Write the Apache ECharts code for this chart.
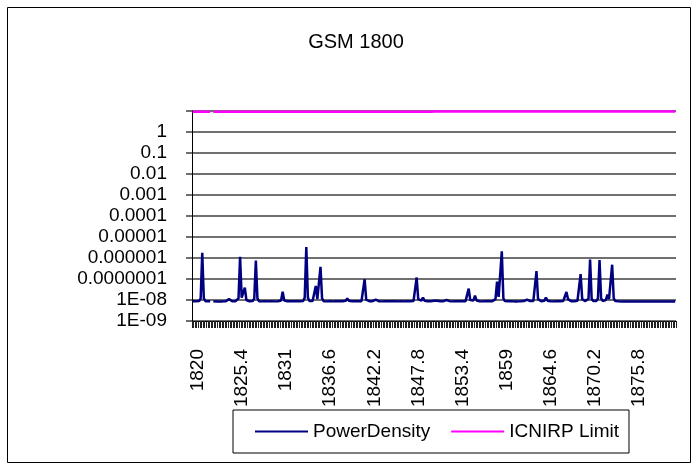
<!DOCTYPE html>
<html>
<head>
<meta charset="utf-8">
<script src="https://cdn.jsdelivr.net/npm/echarts@6/dist/echarts.min.js"></script>
<style>
html,body{margin:0;padding:0;background:#fff;}
#chart{width:698px;height:466px;}
</style>
</head>
<body>
<div id="chart"></div>
<script>
// Frequency (MHz) categories; one blank row in the source sheet at index 12
const frequencies = [
1820,1820.2,1820.4,1820.6,1820.8,1821,1821.2,1821.4,1821.6,1821.8,
1822,1822.2,'',1822.4,1822.6,1822.8,1823,1823.2,1823.4,1823.6,
1823.8,1824,1824.2,1824.4,1824.6,1824.8,1825,1825.2,1825.4,1825.6,
1825.8,1826,1826.2,1826.4,1826.6,1826.8,1827,1827.2,1827.4,1827.6,
1827.8,1828,1828.2,1828.4,1828.6,1828.8,1829,1829.2,1829.4,1829.6,
1829.8,1830,1830.2,1830.4,1830.6,1830.8,1831,1831.2,1831.4,1831.6,
1831.8,1832,1832.2,1832.4,1832.6,1832.8,1833,1833.2,1833.4,1833.6,
1833.8,1834,1834.2,1834.4,1834.6,1834.8,1835,1835.2,1835.4,1835.6,
1835.8,1836,1836.2,1836.4,1836.6,1836.8,1837,1837.2,1837.4,1837.6,
1837.8,1838,1838.2,1838.4,1838.6,1838.8,1839,1839.2,1839.4,1839.6,
1839.8,1840,1840.2,1840.4,1840.6,1840.8,1841,1841.2,1841.4,1841.6,
1841.8,1842,1842.2,1842.4,1842.6,1842.8,1843,1843.2,1843.4,1843.6,
1843.8,1844,1844.2,1844.4,1844.6,1844.8,1845,1845.2,1845.4,1845.6,
1845.8,1846,1846.2,1846.4,1846.6,1846.8,1847,1847.2,1847.4,1847.6,
1847.8,1848,1848.2,1848.4,1848.6,1848.8,1849,1849.2,1849.4,1849.6,
1849.8,1850,1850.2,1850.4,1850.6,1850.8,1851,1851.2,1851.4,1851.6,
1851.8,1852,1852.2,1852.4,1852.6,1852.8,1853,1853.2,1853.4,1853.6,
1853.8,1854,1854.2,1854.4,1854.6,1854.8,1855,1855.2,1855.4,1855.6,
1855.8,1856,1856.2,1856.4,1856.6,1856.8,1857,1857.2,1857.4,1857.6,
1857.8,1858,1858.2,1858.4,1858.6,1858.8,1859,1859.2,1859.4,1859.6,
1859.8,1860,1860.2,1860.4,1860.6,1860.8,1861,1861.2,1861.4,1861.6,
1861.8,1862,1862.2,1862.4,1862.6,1862.8,1863,1863.2,1863.4,1863.6,
1863.8,1864,1864.2,1864.4,1864.6,1864.8,1865,1865.2,1865.4,1865.6,
1865.8,1866,1866.2,1866.4,1866.6,1866.8,1867,1867.2,1867.4,1867.6,
1867.8,1868,1868.2,1868.4,1868.6,1868.8,1869,1869.2,1869.4,1869.6,
1869.8,1870,1870.2,1870.4,1870.6,1870.8,1871,1871.2,1871.4,1871.6,
1871.8,1872,1872.2,1872.4,1872.6,1872.8,1873,1873.2,1873.4,1873.6,
1873.8,1874,1874.2,1874.4,1874.6,1874.8,1875,1875.2,1875.4,1875.6,
1875.8,1876,1876.2,1876.4,1876.6,1876.8,1877,1877.2,1877.4,1877.6,
1877.8,1878,1878.2,1878.4,1878.6,1878.8,1879,1879.2,1879.4,1879.6,
1879.8,1880,1880.2,1880.4,1880.6,1880.8,1881
];

// Measured power density (W/m2)
const powerDensity = [
8.8e-9,8.7e-9,8.7e-9,8.6e-9,8.9e-9,1.2e-8,1.75e-6,1.2e-8,8.8e-9,8.7e-9,
8.7e-9,8.8e-9,null,8.6e-9,8.6e-9,8.5e-9,8.6e-9,8.6e-9,8.7e-9,8.6e-9,
8.7e-9,8.8e-9,9.2e-9,1.1e-8,9.0e-9,8.7e-9,8.8e-9,8.7e-9,9.0e-9,1.2e-8,
1.15e-6,1.3e-8,1.1e-8,3.9e-8,1.0e-8,8.8e-9,8.7e-9,8.7e-9,8.9e-9,1.2e-8,
7.6e-7,1.2e-8,8.8e-9,8.7e-9,8.6e-9,8.7e-9,8.7e-9,8.8e-9,8.6e-9,8.7e-9,
8.8e-9,8.7e-9,8.6e-9,8.7e-9,8.8e-9,8.9e-9,9.5e-9,2.5e-8,9.5e-9,8.8e-9,
8.7e-9,8.6e-9,8.7e-9,8.8e-9,8.7e-9,8.6e-9,8.7e-9,8.8e-9,8.7e-9,8.8e-9,
8.9e-9,1.3e-8,3.3e-6,1.3e-8,8.9e-9,8.8e-9,8.9e-9,1.1e-8,4.7e-8,1.1e-8,
1.2e-8,3.8e-7,1.2e-8,8.8e-9,8.7e-9,8.6e-9,8.7e-9,8.8e-9,8.7e-9,8.6e-9,
8.7e-9,8.8e-9,8.7e-9,8.7e-9,8.6e-9,8.7e-9,8.8e-9,9.2e-9,1.2e-8,9.2e-9,
8.8e-9,8.7e-9,8.6e-9,8.7e-9,8.7e-9,8.8e-9,8.7e-9,8.8e-9,1.05e-8,9.7e-8,
1.05e-8,8.8e-9,8.7e-9,8.7e-9,8.8e-9,9.2e-9,1.05e-8,9.2e-9,8.8e-9,8.7e-9,
8.6e-9,8.7e-9,8.7e-9,8.6e-9,8.7e-9,8.8e-9,8.7e-9,8.6e-9,8.7e-9,8.7e-9,
8.6e-9,8.7e-9,8.8e-9,8.7e-9,8.6e-9,8.7e-9,8.7e-9,8.8e-9,8.7e-9,8.8e-9,
8.9e-9,1.1e-8,1.18e-7,1.1e-8,8.9e-9,9.3e-9,1.3e-8,9.3e-9,8.8e-9,8.7e-9,
8.7e-9,8.8e-9,8.9e-9,9.3e-9,1.1e-8,9.3e-9,8.8e-9,8.7e-9,8.7e-9,8.8e-9,
9.3e-9,1.0e-8,9.2e-9,8.8e-9,8.7e-9,8.6e-9,8.7e-9,8.7e-9,8.6e-9,8.7e-9,
8.6e-9,8.7e-9,8.8e-9,8.8e-9,1.0e-8,3.5e-8,1.0e-8,9.0e-9,9.5e-9,1.6e-8,
9.5e-9,8.8e-9,8.7e-9,8.7e-9,8.6e-9,8.7e-9,8.7e-9,8.8e-9,8.7e-9,8.7e-9,
8.8e-9,9.0e-9,1.1e-8,7.5e-8,1.4e-8,1.5e-8,2.1e-6,1.2e-8,8.9e-9,8.7e-9,
8.7e-9,8.6e-9,8.7e-9,8.7e-9,8.6e-9,8.7e-9,8.6e-9,8.7e-9,8.7e-9,8.8e-9,
8.9e-9,9.3e-9,1.05e-8,9.3e-9,8.9e-9,8.8e-9,8.9e-9,1.1e-8,2.4e-7,1.1e-8,
8.9e-9,8.8e-9,8.8e-9,9.3e-9,1.3e-8,9.3e-9,8.8e-9,8.7e-9,8.7e-9,8.6e-9,
8.7e-9,8.7e-9,8.6e-9,8.7e-9,8.8e-9,9.0e-9,1.1e-8,2.4e-8,1.1e-8,8.9e-9,
8.8e-9,8.7e-9,8.8e-9,8.9e-9,9.2e-9,1.1e-8,1.7e-7,1.1e-8,9.0e-9,8.9e-9,
9.0e-9,1.15e-8,8.5e-7,1.15e-8,9.0e-9,8.9e-9,9.0e-9,1.2e-8,8.0e-7,1.2e-8,
9.0e-9,9.0e-9,1.0e-8,1.8e-8,1.1e-8,1.2e-8,4.8e-7,1.2e-8,8.9e-9,8.7e-9,
8.6e-9,8.6e-9,8.5e-9,8.5e-9,8.6e-9,8.5e-9,8.5e-9,8.6e-9,8.5e-9,8.5e-9,
8.6e-9,8.5e-9,8.5e-9,8.6e-9,8.5e-9,8.5e-9,8.6e-9,8.5e-9,8.5e-9,8.6e-9,
8.5e-9,8.5e-9,8.6e-9,8.5e-9,8.5e-9,8.6e-9,8.5e-9,8.5e-9,8.6e-9,8.5e-9,
8.5e-9,8.6e-9,8.5e-9,8.5e-9,8.6e-9,8.5e-9,8.5e-9
];

// ICNIRP reference level (W/m2)
const icnirpLimit = [
9.1,9.1,9.1,9.1,9.1,9.1,9.1,9.1,9.1,9.1,
9.1,9.1,null,9.1,9.1,9.1,9.1,9.1,9.1,9.1,
9.1,9.1,9.1,9.1,9.1,9.1,9.1,9.1,9.1,9.1,
9.1,9.1,9.1,9.1,9.1,9.1,9.1,9.1,9.1,9.1,
9.1,9.1,9.1,9.1,9.1,9.1,9.1,9.1,9.1,9.1,
9.1,9.1,9.1,9.1,9.1,9.1,9.1,9.1,9.1,9.1,
9.1,9.1,9.1,9.1,9.1,9.1,9.1,9.1,9.1,9.1,
9.1,9.1,9.1,9.1,9.1,9.1,9.1,9.1,9.1,9.1,
9.1,9.1,9.1,9.1,9.1,9.1,9.1,9.1,9.1,9.1,
9.1,9.1,9.1,9.1,9.1,9.1,9.1,9.1,9.1,9.1,
9.1,9.1,9.1,9.1,9.1,9.1,9.1,9.1,9.1,9.1,
9.1,9.1,9.1,9.1,9.1,9.1,9.1,9.1,9.1,9.1,
9.1,9.1,9.1,9.1,9.1,9.1,9.1,9.1,9.1,9.1,
9.1,9.1,9.1,9.1,9.1,9.1,9.1,9.1,9.1,9.1,
9.1,9.1,9.1,9.1,9.1,9.1,9.1,9.1,9.1,9.1,
9.1,9.1,9.4,9.4,9.4,9.4,9.4,9.4,9.4,9.4,
9.4,9.4,9.4,9.4,9.4,9.4,9.4,9.4,9.4,9.4,
9.4,9.4,9.4,9.4,9.4,9.4,9.4,9.4,9.4,9.4,
9.4,9.4,9.4,9.4,9.4,9.4,9.4,9.4,9.4,9.4,
9.4,9.4,9.4,9.4,9.4,9.4,9.4,9.4,9.4,9.4,
9.4,9.4,9.4,9.4,9.4,9.4,9.4,9.4,9.4,9.4,
9.4,9.4,9.4,9.4,9.4,9.4,9.4,9.4,9.4,9.4,
9.4,9.4,9.4,9.4,9.4,9.4,9.4,9.4,9.4,9.4,
9.4,9.4,9.4,9.4,9.4,9.4,9.4,9.4,9.4,9.4,
9.4,9.4,9.4,9.4,9.4,9.4,9.4,9.4,9.4,9.4,
9.4,9.4,9.4,9.4,9.4,9.4,9.4,9.4,9.4,9.4,
9.4,9.4,9.4,9.4,9.4,9.4,9.4,9.4,9.4,9.4,
9.4,9.4,9.4,9.4,9.4,9.4,9.4,9.4,9.4,9.4,
9.4,9.4,9.4,9.4,9.4,9.4,9.4,9.4,9.4,9.4,
9.4,9.4,9.4,9.4,9.4,9.4,9.4,9.4,9.4,9.4,
9.4,9.4,9.4,9.4,9.4,9.4,9.4
];

// Y tick labels by decade exponent, from 1E-09 up to 10 (top label hidden)
const yTickLabels = ['1E-09','1E-08','0.0000001','0.000001','0.00001','0.0001','0.001','0.01','0.1','1',''];
const yMinExp = -9;
const xLabelStep = 28;

const FONT = "'Liberation Sans', Arial, sans-serif";
const chart = echarts.init(document.getElementById('chart'), null, {renderer: 'canvas'});

chart.setOption({
  animation: false,
  backgroundColor: '#fff',
  title: {
    text: 'GSM 1800',
    left: 351,
    top: 27,
    textAlign: 'center',
    textStyle: {fontFamily: FONT, fontSize: 20, fontWeight: 'normal', color: '#000'}
  },
  graphic: [{
    type: 'rect',
    shape: {x: 7.5, y: 7.5, width: 683, height: 455},
    style: {fill: 'none', stroke: '#000', lineWidth: 1},
    silent: true
  }],
  legend: {
    left: 233,
    top: 410,
    padding: [12, 10, 12, 22],
    borderColor: '#000',
    borderWidth: 1,
    icon: 'rect',
    itemWidth: 53,
    itemHeight: 2,
    itemGap: 21,
    textStyle: {fontFamily: FONT, fontSize: 19, color: '#000', lineHeight: 19},
    data: ['PowerDensity', 'ICNIRP Limit']
  },
  grid: {left: 192, right: 22, top: 111, bottom: 145},
  xAxis: {
    type: 'category',
    data: frequencies,
    boundaryGap: true,
    axisLine: {show: true, lineStyle: {color: '#000', width: 1}},
    axisTick: {show: true, interval: 0, length: 7, lineStyle: {color: '#222', width: 1}},
    axisLabel: {
      interval: xLabelStep - 1,
      rotate: 90,
      margin: 28,
      verticalAlign: 'top',
      lineHeight: 10,
      fontFamily: FONT,
      fontSize: 19,
      color: '#000'
    },
    splitLine: {show: false}
  },
  yAxis: {
    type: 'log',
    logBase: 10,
    min: 1e-9,
    max: 10,
    interval: 1,
    splitNumber: 10,
    axisLine: {show: true, lineStyle: {color: '#000', width: 1}},
    axisTick: {show: true, length: 6, lineStyle: {color: '#404040', width: 1.5}},
    axisLabel: {
      margin: 25,
      fontFamily: FONT,
      fontSize: 19,
      color: '#000',
      formatter: function (v) {
        const e = Math.round(Math.log10(v)) - yMinExp;
        return yTickLabels[e] !== undefined ? yTickLabels[e] : '';
      }
    },
    splitLine: {show: true, lineStyle: {color: '#404040', width: 1.5}}
  },
  series: [
    {
      name: 'PowerDensity',
      type: 'line',
      data: powerDensity,
      symbol: 'none',
      connectNulls: false,
      lineStyle: {color: '#000080', width: 2.5},
      itemStyle: {color: '#000080'},
      z: 3
    },
    {
      name: 'ICNIRP Limit',
      type: 'line',
      data: icnirpLimit,
      symbol: 'none',
      connectNulls: false,
      lineStyle: {color: '#ff00ff', width: 2.5},
      itemStyle: {color: '#ff00ff'},
      z: 4
    }
  ]
});
</script>
</body>
</html>
